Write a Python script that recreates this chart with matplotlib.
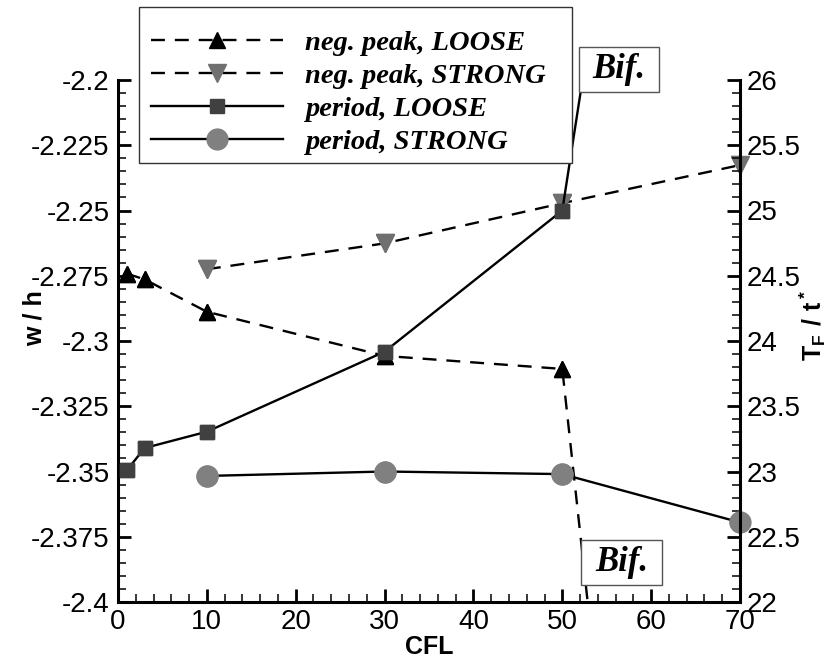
import numpy as np
import matplotlib
matplotlib.use("Agg")
import matplotlib.pyplot as plt
from matplotlib.patches import Rectangle
from matplotlib.ticker import MultipleLocator
from matplotlib.font_manager import FontProperties

plt.rcParams["font.family"] = "Liberation Sans"
plt.rcParams["axes.unicode_minus"] = False
plt.rcParams["mathtext.fontset"] = "custom"
plt.rcParams["mathtext.rm"] = "Liberation Sans"
plt.rcParams["mathtext.bf"] = "Liberation Sans:bold"

# ============================
# Datos
# ============================
# pico negativo w/h (eje izquierdo)
cfl_neg_loose = [1, 3, 10, 30, 50, 70]
neg_loose = [-2.2742, -2.2764, -2.2888, -2.3057, -2.3107, -2.936]   # ultimo punto fuera del grafico (bifurcacion)
cfl_neg_strong = [10, 30, 50, 70]
neg_strong = [-2.2725, -2.2626, -2.2472, -2.2326]

# periodo T_F/t* (eje derecho)
cfl_per_loose = [1, 3, 10, 30, 50, 70]
per_loose = [23.01, 23.18, 23.305, 23.918, 25.0, 33.8]              # ultimo punto fuera del grafico (bifurcacion)
cfl_per_strong = [10, 30, 50, 70]
per_strong = [22.966, 23.0, 22.98, 22.61]

labels = ["neg. peak, LOOSE", "neg. peak, STRONG", "period, LOOSE", "period, STRONG"]

# ============================
# Figura
# ============================
W, H = 835, 660
fig = plt.figure(figsize=(W / 100, H / 100), dpi=100)
ax = fig.add_axes([118 / W, 58 / H, 622 / W, 522 / H])
ax2 = ax.twinx()

dash = (5.9, 4.2)
lw = 1.7


def serie(a, x, y, ylim, ls, marker, color, ms):
    x = np.array(x)
    y = np.array(y)
    line, = a.plot(x, y, color="black", lw=lw, marker=marker, ms=ms,
                   mfc=color, mec=color)
    if ls == "--":
        line.set_dashes(dash)
    # marcadores visibles sin recorte en el borde
    mask = (y >= ylim[0]) & (y <= ylim[1])
    a.plot(x[mask], y[mask], ls="none", marker=marker, ms=ms, mfc=color,
           mec=color, clip_on=False)
    return line


ylim_l = (-2.4, -2.2)
ylim_r = (22, 26)
h1 = serie(ax, cfl_neg_loose, neg_loose, ylim_l, "--", "^", "black", 12)
h2 = serie(ax, cfl_neg_strong, neg_strong, ylim_l, "--", "v", "#707070", 13)
h3 = serie(ax2, cfl_per_loose, per_loose, ylim_r, "-", "s", "#404040", 10)
h4 = serie(ax2, cfl_per_strong, per_strong, ylim_r, "-", "o", "#808080", 15)

ax.set_xlim(0, 70)
ax.set_ylim(*ylim_l)
ax2.set_ylim(*ylim_r)

ax.xaxis.set_major_locator(MultipleLocator(10))
ax.xaxis.set_minor_locator(MultipleLocator(2))
ax.yaxis.set_major_locator(MultipleLocator(0.025))
ax.yaxis.set_minor_locator(MultipleLocator(0.005))
ax2.yaxis.set_major_locator(MultipleLocator(0.5))
ax2.yaxis.set_minor_locator(MultipleLocator(0.1))
ax.yaxis.set_major_formatter(plt.FuncFormatter(lambda v, p: f"{v:g}"))
ax2.yaxis.set_major_formatter(plt.FuncFormatter(lambda v, p: f"{v:g}"))

for a in (ax, ax2):
    for s in a.spines.values():
        s.set_linewidth(2.2)
    a.spines["top"].set_visible(False)
    a.tick_params(which="major", direction="in", length=9.5, width=2, labelsize=20)
    a.tick_params(which="minor", direction="in", length=5.5, width=1.1)
ax.spines["right"].set_visible(False)
ax2.spines["left"].set_visible(False)
ax2.spines["bottom"].set_visible(False)
ax.tick_params(axis="x", which="both", top=False, pad=5)
ax.tick_params(axis="y", which="both", right=False, pad=6)
ax2.tick_params(axis="y", which="both", left=False, right=True, pad=5)

ax.set_xlabel("CFL", fontsize=18, fontweight="bold")
ax.xaxis.set_label_coords(0.5, -0.064)
ax.set_ylabel("w / h", fontsize=18, fontweight="bold")
ax.yaxis.set_label_coords(-0.115, 0.544)
ax2.set_ylabel(r"$\mathbf{T_F\ /\ t^*}$", fontsize=18, rotation=90)
ax2.yaxis.set_label_coords(1.093, 0.53)

# ============================
# Leyenda con marco propio
# ============================
fig.patches.append(Rectangle((139 / W, 1 - 163 / H), (572 - 139) / W, 156 / H,
                             transform=fig.transFigure, fc="white",
                             ec="#333333", lw=1.0, zorder=2))
fs_leg = 20.5
fp = FontProperties(family="Liberation Serif", weight="bold", style="italic", size=fs_leg)
leg = fig.legend([h1, h2, h3, h4], labels, loc="upper left",
                 bbox_to_anchor=(151 / W, 1 - 30 / H), frameon=False, prop=fp,
                 numpoints=1, handlelength=95 / fs_leg, handletextpad=15.8 / fs_leg,
                 labelspacing=0.245, borderpad=0, borderaxespad=0)
leg.set_zorder(3)

# cajas "Bif."
fbif = FontProperties(family="Liberation Serif", weight="bold", style="italic", size=25)
for (x0, y0, x1, y1) in [(579, 47, 659, 92), (581, 540, 662, 585)]:
    fig.patches.append(Rectangle((x0 / W, 1 - y1 / H), (x1 - x0) / W, (y1 - y0) / H,
                                 transform=fig.transFigure, fc="white",
                                 ec="#555555", lw=1.0, zorder=2))
    fig.text((x0 + x1) / 2 / W, 1 - (y0 + y1) / 2 / H, "Bif.", ha="center",
             va="center", fontproperties=fbif, zorder=3)

fig.savefig("out.png", dpi=100)
